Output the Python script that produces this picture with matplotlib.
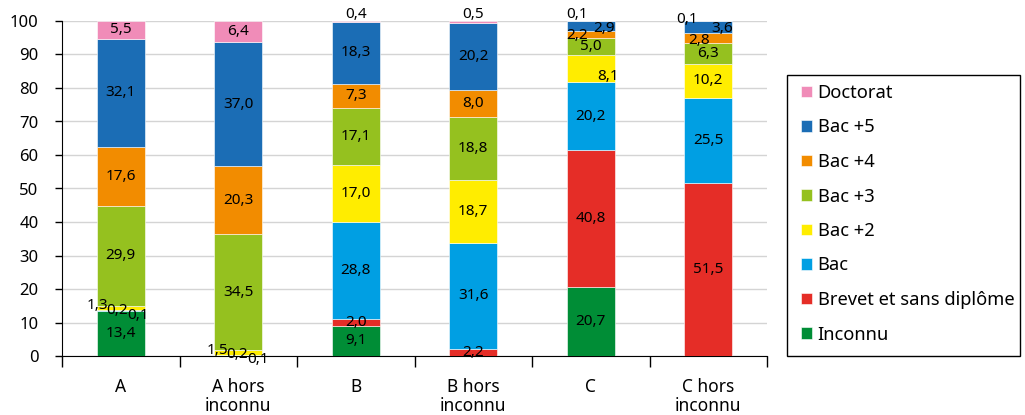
import matplotlib.pyplot as plt
from matplotlib.patches import Rectangle
import numpy as np

plt.rcParams['font.family'] = ['Noto Sans', 'DejaVu Sans']

# Data (percentages), bottom -> top
categories = ['A', 'A hors\ninconnu', 'B', 'B hors\ninconnu', 'C', 'C hors\ninconnu']
series = ['Inconnu', 'Brevet et sans diplôme', 'Bac', 'Bac +2', 'Bac +3', 'Bac +4', 'Bac +5', 'Doctorat']
inconnu = [13.4, 0.0, 9.1, 0.0, 20.7, 0.0]
brevet = [0.1, 0.1, 2.0, 2.2, 40.8, 51.5]
bac = [0.2, 0.2, 28.8, 31.6, 20.2, 25.5]
bac2 = [1.3, 1.5, 17.0, 18.7, 8.1, 10.2]
bac3 = [29.9, 34.5, 17.1, 18.8, 5.0, 6.3]
bac4 = [17.6, 20.3, 7.3, 8.0, 2.2, 2.8]
bac5 = [32.1, 37.0, 18.3, 20.2, 2.9, 3.6]
doctorat = [5.5, 6.4, 0.4, 0.5, 0.1, 0.1]
values = [inconnu, brevet, bac, bac2, bac3, bac4, bac5, doctorat]

colors = ['#008D36', '#E52D27', '#009FE3', '#FFED00', '#95C11F', '#F28C00', '#1B6DB5', '#F08CB8']

# label nudges for crowded small segments: (category, series) -> (dx, y)
label_pos = {
    (0, 3): (-0.2, 15.2), (0, 2): (-0.03, 13.7), (0, 1): (0.15, 12.2),
    (1, 3): (-0.18, 1.5), (1, 2): (-0.01, 0.3), (1, 1): (0.17, -0.9),
    (2, 7): (0.0, 101.8), (3, 7): (0.0, 101.8), (3, 1): (0.0, 1.0),
    (4, 7): (-0.12, 101.8), (4, 6): (0.11, 97.9), (4, 5): (-0.12, 95.8),
    (4, 3): (0.145, 83.3),
    (5, 7): (-0.18, 100.3), (5, 6): (0.12, 97.9), (5, 5): (-0.08, 94.3),
}

W, H = 1025, 415
fig = plt.figure(figsize=(W / 100, H / 100), dpi=100)
ax = fig.add_axes([62 / W, 1 - 356 / H, (767 - 62) / W, (356 - 21) / H])

x = np.arange(len(categories)) + 0.5
bottom = np.zeros(len(categories))
handles = []
for si, (name, vals, col) in enumerate(zip(series, values, colors)):
    vals = np.array(vals)
    b = ax.bar(x, vals, 0.41, bottom=bottom, color=col, edgecolor='white',
               linewidth=0.4, label=name, zorder=3)
    handles.append(b)
    for ci in range(len(categories)):
        if vals[ci] <= 0:
            continue
        dx, ty = label_pos.get((ci, si), (0.0, bottom[ci] + vals[ci] / 2))
        ax.text(x[ci] + dx, ty, f'{vals[ci]:.1f}'.replace('.', ','),
                ha='center', va='center', fontsize=11, color='black', zorder=5)
    bottom += vals

ax.set_xlim(0, 6)
ax.set_ylim(0, 100)
ax.set_yticks(np.arange(0, 101, 10))
ax.set_xticks(x)
ax.set_xticklabels(categories, fontsize=12.5, linespacing=1.05)
ax.set_xticks(np.arange(0, 7), minor=True)
ax.tick_params(axis='x', which='major', length=0, pad=16)
ax.tick_params(axis='x', which='minor', length=8, width=1, color='black')
ax.tick_params(axis='y', labelsize=12, length=5, width=1, pad=12)
ax.grid(axis='y', color='#D4D4D4', linewidth=1, zorder=0)
for s in ['top', 'right']:
    ax.spines[s].set_visible(False)
ax.spines['left'].set_color('black')
ax.spines['bottom'].set_color('black')

# legend without its own frame; box drawn separately (tight right padding like the original)
leg = ax.legend(handles[::-1], series[::-1], loc='upper left',
                bbox_to_anchor=(801 / W, 1 - 84 / H), bbox_transform=fig.transFigure,
                fontsize=13.2, frameon=False,
                handlelength=0.6, handleheight=0.6, handletextpad=0.3,
                labelspacing=0.9, borderpad=0, borderaxespad=0)
fig.patches.append(Rectangle((787 / W, 1 - 356 / H), (1020 - 787) / W, (356 - 75) / H,
                             transform=fig.transFigure, fill=False,
                             edgecolor='black', linewidth=1))

fig.savefig('out.png', dpi=100)
